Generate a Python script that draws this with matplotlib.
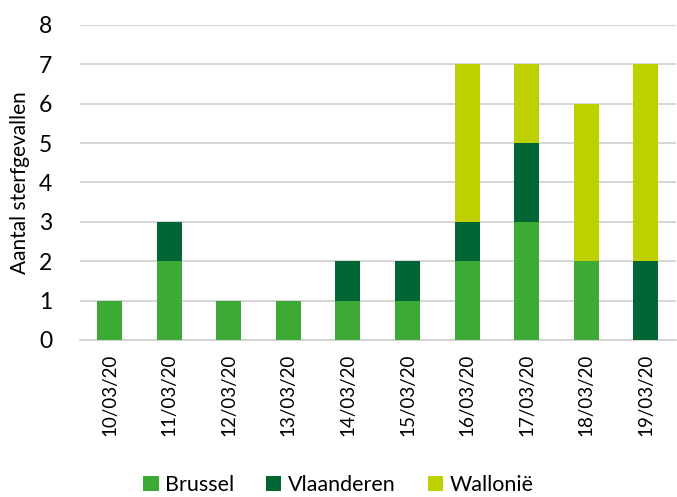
import matplotlib
matplotlib.use("Agg")
import matplotlib.pyplot as plt
import numpy as np

dates = ["10/03/20", "11/03/20", "12/03/20", "13/03/20", "14/03/20",
         "15/03/20", "16/03/20", "17/03/20", "18/03/20", "19/03/20"]
brussel = [1, 2, 1, 1, 1, 1, 2, 3, 2, 0]
vlaanderen = [0, 1, 0, 0, 1, 1, 1, 2, 0, 2]
wallonie = [0, 0, 0, 0, 0, 0, 4, 2, 4, 5]

plt.rcParams['font.family'] = ['Lato', 'DejaVu Sans']

fig = plt.figure(figsize=(6.77, 4.97), dpi=100)
ax = fig.add_axes([0.118, 0.316, 0.88, 0.634])

x = np.arange(len(dates))
w = 0.42
b = np.array(brussel)
v = np.array(vlaanderen)
wl = np.array(wallonie)
ax.bar(x, b, w, color="#3DAA35", label="Brussel", zorder=3)
ax.bar(x, v, w, bottom=b, color="#006633", label="Vlaanderen", zorder=3)
ax.bar(x, wl, w, bottom=b + v, color="#BFD000", label="Wallonië", zorder=3)

ax.set_xlim(-0.5, len(dates) - 0.5)
ax.set_ylim(0, 8)
ax.set_yticks(range(0, 9))
ax.yaxis.grid(True, color="#D0D0D0", linewidth=1.2, zorder=0)
for s in ["top", "right", "left"]:
    ax.spines[s].set_visible(False)
ax.spines["bottom"].set_color("#D0D0D0")
ax.spines["bottom"].set_linewidth(1.2)
ax.tick_params(axis="both", length=0, colors="#000000")
ax.tick_params(axis="y", pad=20, labelsize=16.5)
ax.set_xticks(x)
ax.set_xticklabels(dates, rotation=90, fontsize=13.5)
ax.tick_params(axis="x", pad=10)
ax.set_ylabel("Aantal sterfgevallen", fontsize=15)
ax.yaxis.set_label_coords(-0.083, 0.5)

fig.legend(loc="lower center", bbox_to_anchor=(0.5, -0.035), ncol=3, frameon=False,
           fontsize=15.5, handlelength=0.7, handleheight=0.7, handletextpad=0.3,
           columnspacing=1.5)

fig.savefig("out.png", dpi=100)
